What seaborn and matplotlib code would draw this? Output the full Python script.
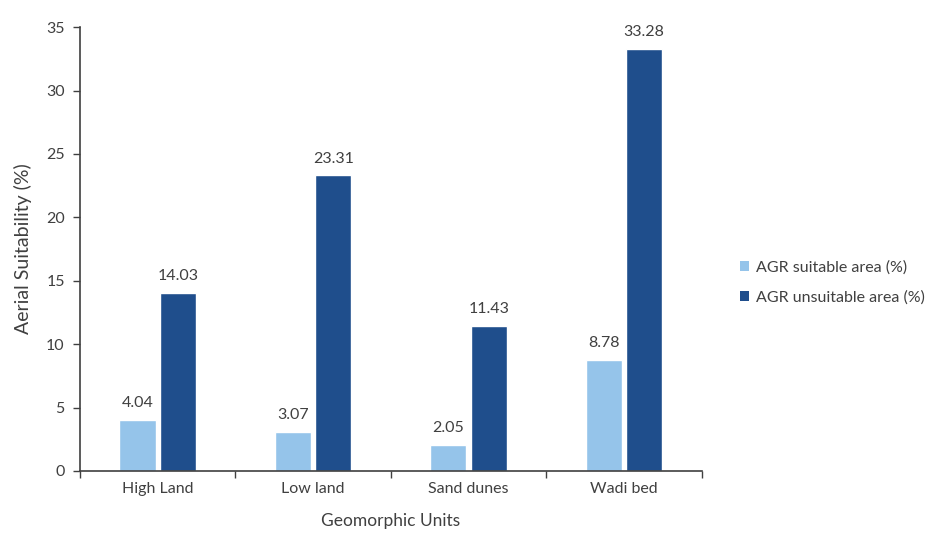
import matplotlib
matplotlib.use("Agg")
import matplotlib.pyplot as plt
import seaborn as sns
import pandas as pd
from matplotlib.patches import Patch
from matplotlib.ticker import FixedLocator

units = ["High Land", "Low land", "Sand dunes", "Wadi bed"]
suitable = [4.04, 3.07, 2.05, 8.78]
unsuitable = [14.03, 23.31, 11.43, 33.28]
series_names = ["AGR suitable area (%)", "AGR unsuitable area (%)"]
colors = ["#95C4EA", "#1F4E8C"]

df = pd.DataFrame({
    "unit": units * 2,
    "value": suitable + unsuitable,
    "series": [series_names[0]] * len(units) + [series_names[1]] * len(units),
})

sns.set_style("white")
plt.rcParams["font.family"] = ["Lato", "DejaVu Sans"]
text_color = "#404040"

fig = plt.figure(figsize=(9.52, 5.43), dpi=100)
ax = fig.add_axes([0.084, 0.1326, 0.653, 0.8174])

sns.barplot(data=df, x="unit", y="value", hue="series", palette=colors,
            width=0.52, gap=0.1, ax=ax, legend=False, saturation=1)

for container in ax.containers:
    ax.bar_label(container, fmt="%.2f", padding=7, fontsize=11.5, color=text_color)

ax.set_xlim(-0.5, 3.5)
ax.set_ylim(0, 35)
ax.set_yticks(range(0, 36, 5))
ax.tick_params(axis="y", direction="out", length=5, width=1, color="#404040",
               labelsize=11.5, labelcolor=text_color, left=True, pad=6)
ax.tick_params(axis="x", which="major", length=0, labelsize=11.5,
               labelcolor=text_color, pad=8)
ax.xaxis.set_minor_locator(FixedLocator([-0.5, 0.5, 1.5, 2.5, 3.5]))
ax.tick_params(axis="x", which="minor", direction="out", length=5, width=1,
               color="#404040", bottom=True)

sns.despine(ax=ax)
for side in ("left", "bottom"):
    ax.spines[side].set_color("#404040")
    ax.spines[side].set_linewidth(1.2)

ax.set_xlabel("Geomorphic Units", fontsize=12.5, color=text_color, labelpad=12)
ax.set_ylabel("Aerial Suitability (%)", fontsize=14, color=text_color, labelpad=10)

handles = [Patch(facecolor=c, edgecolor="none") for c in colors]
fig.legend(handles, series_names, loc="center left", bbox_to_anchor=(0.762, 0.48),
           frameon=False, fontsize=11.5, labelcolor=text_color, handlelength=0.6,
           handleheight=0.6, handletextpad=0.4, labelspacing=1.0)

fig.savefig("out.png", dpi=100, facecolor="white")
